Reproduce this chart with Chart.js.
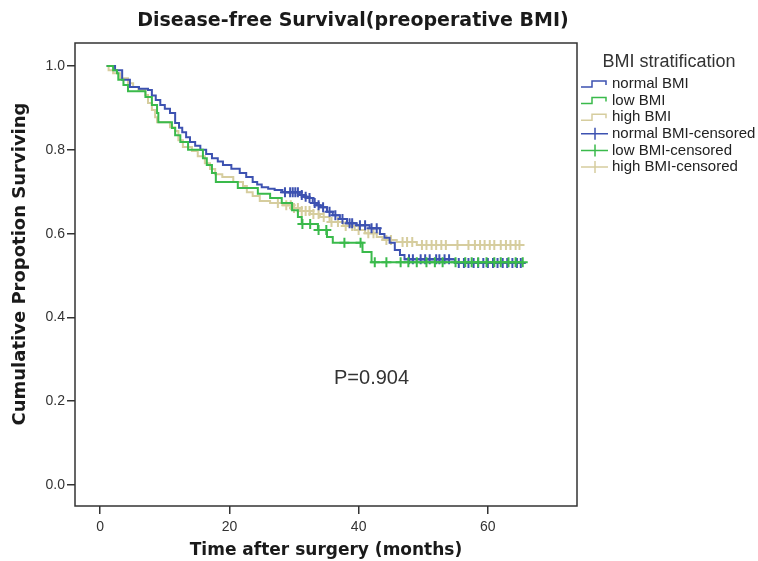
<!DOCTYPE html>
<html>
<head>
<meta charset="utf-8">
<script src="https://cdn.jsdelivr.net/npm/chart.js@4.4.1/dist/chart.umd.min.js"></script>
<style>
  html, body { margin: 0; padding: 0; background: #fff; }
  #wrap { width: 758px; height: 561px; }
</style>
</head>
<body>
<div id="wrap"><canvas id="kmChart" width="758" height="561"></canvas></div>
<script>
// values (months, cumulative survival)
const normalTime = [1, 2.3, 3.4, 4.6, 6.0, 7.4, 8.0, 8.6, 9.3, 10.0, 10.8, 11.6, 12.2, 12.7, 13.3, 13.9, 14.7, 15.5, 16.4, 17.3, 18.2, 19.0, 20.3, 21.6, 22.6, 23.6, 24.3, 25.0, 26.0, 27.0, 28.2, 30.9, 31.5, 32.0, 32.9, 33.5, 34.0, 35.1, 36.0, 37.1, 38.2, 39.7, 41.7, 43.3, 44.0, 44.8, 45.6, 46.4, 47.1, 54.9, 65.1];
const normalSurv = [1.0, 0.99, 0.967, 0.95, 0.946, 0.943, 0.93, 0.919, 0.907, 0.898, 0.888, 0.864, 0.853, 0.842, 0.83, 0.819, 0.81, 0.8, 0.79, 0.78, 0.772, 0.764, 0.755, 0.745, 0.735, 0.723, 0.717, 0.711, 0.707, 0.704, 0.699, 0.692, 0.688, 0.685, 0.673, 0.668, 0.663, 0.652, 0.644, 0.635, 0.625, 0.62, 0.613, 0.599, 0.59, 0.578, 0.561, 0.549, 0.539, 0.53, 0.53];
const normalCensor = [28.6, 29.4, 29.8, 30.2, 30.6, 31.2, 31.8, 32.4, 33.2, 33.8, 34.5, 35.5, 36.4, 37.5, 38.6, 39.0, 40.2, 41.0, 42.0, 42.8, 47.8, 48.4, 49.6, 50.3, 51.0, 52.0, 52.5, 53.3, 54.0, 55.5, 56.3, 57.0, 57.8, 58.5, 59.3, 60.0, 60.8, 61.5, 62.3, 63.0, 63.8, 64.5, 65.1];

const lowTime = [1, 2.0, 2.6, 2.8, 3.6, 4.3, 7.0, 8.0, 8.8, 9.0, 11.1, 11.6, 12.4, 13.6, 15.9, 16.5, 17.3, 17.9, 21.3, 24.4, 26.3, 28.1, 29.7, 30.6, 31.2, 33.7, 35.1, 36.0, 40.6, 42.0, 65.4];
const lowSurv = [1.0, 0.99, 0.983, 0.967, 0.955, 0.94, 0.926, 0.907, 0.888, 0.866, 0.852, 0.835, 0.819, 0.8, 0.78, 0.764, 0.745, 0.723, 0.709, 0.695, 0.685, 0.673, 0.656, 0.64, 0.623, 0.609, 0.592, 0.578, 0.556, 0.532, 0.532];
const lowCensor = [31.3, 32.5, 33.8, 35.0, 37.8, 40.3, 42.5, 44.3, 46.5, 47.7, 49.0, 50.5, 51.8, 53.0, 55.0, 56.5, 57.5, 58.5, 59.8, 61.0, 62.0, 63.2, 64.3, 65.4];

const highTime = [1, 1.3, 2.0, 3.1, 4.3, 5.1, 5.9, 7.0, 7.4, 8.0, 8.5, 8.8, 10.8, 11.6, 12.1, 12.8, 14.2, 15.1, 16.2, 17.0, 17.8, 18.9, 20.6, 22.1, 22.7, 23.6, 24.7, 26.3, 28.3, 29.7, 30.9, 32.5, 34.0, 35.5, 37.6, 39.4, 41.0, 42.8, 43.7, 45.9, 49.0, 64.9];
const highSurv = [1.0, 0.99, 0.983, 0.971, 0.959, 0.95, 0.943, 0.931, 0.912, 0.895, 0.878, 0.866, 0.854, 0.845, 0.823, 0.807, 0.797, 0.785, 0.768, 0.754, 0.742, 0.735, 0.723, 0.714, 0.699, 0.69, 0.678, 0.673, 0.668, 0.661, 0.654, 0.647, 0.64, 0.628, 0.618, 0.609, 0.601, 0.592, 0.585, 0.58, 0.573, 0.573];
const highCensor = [27.5, 28.8, 29.5, 30.0, 30.6, 31.2, 31.8, 32.4, 33.0, 33.8, 34.6, 35.8, 36.8, 38.0, 39.0, 40.0, 41.5, 42.3, 44.3, 45.0, 46.8, 47.5, 48.3, 49.8, 50.5, 51.3, 52.0, 52.8, 53.5, 55.3, 57.0, 58.0, 58.8, 59.5, 60.3, 61.0, 62.0, 62.8, 63.5, 64.3, 64.9];

const xTicks = [0, 20, 40, 60];
const yTicks = [0.0, 0.2, 0.4, 0.6, 0.8, 1.0];
const legendLabels = ['normal BMI', 'low BMI', 'high BMI', 'normal BMI-censored', 'low BMI-censored', 'high BMI-censored'];
const pValueText = 'P=0.904';

const BLUE = '#3d52b1';
const GREEN = '#3aba4b';
const TAN = '#d6cd9e';

const toPoints = (t, s) => t.map((x, i) => ({ x: x, y: s[i] }));

// survival level of a step curve at time c
const survAt = (t, s, c) => {
    let v = s[0];
    for (let i = 0; i < t.length; i++) {
        if (t[i] <= c) v = s[i];
    }
    return v;
};
const censorPoints = (t, s, cs) => cs.map((c) => ({ x: c, y: survAt(t, s, c) }));

// KM step: hold previous level until the next event time, then drop
const lineSet = (label, t, s, color) => ({
    label: label,
    data: toPoints(t, s),
    showLine: true,
    stepped: 'before',
    borderColor: color,
    borderWidth: 2,
    pointRadius: 0,
    fill: false,
});

const censorSet = (label, t, s, cs, color) => ({
    label: label,
    data: censorPoints(t, s, cs),
    showLine: false,
    pointStyle: 'cross',
    pointRadius: 5,
    pointBorderWidth: 2,
    pointBorderColor: color,
    pointBackgroundColor: color,
});

// box, titles, p-value and legend drawn on top of the chart
const extrasPlugin = {
    id: 'extras',
    afterDraw(chart) {
        const { ctx, chartArea } = chart;
        const xs = chart.scales.x;
        const ys = chart.scales.y;
        ctx.save();

        ctx.strokeStyle = '#333';
        ctx.lineWidth = 1.5;
        ctx.strokeRect(chartArea.left, chartArea.top, chartArea.right - chartArea.left, chartArea.bottom - chartArea.top);

        ctx.fillStyle = '#1a1a1a';
        ctx.font = 'bold 19px "DejaVu Sans"';
        ctx.textAlign = 'center';
        ctx.textBaseline = 'middle';
        ctx.fillText('Disease-free Survival(preoperative BMI)', 353, 21);

        ctx.save();
        ctx.translate(20, 264);
        ctx.rotate(-Math.PI / 2);
        ctx.font = 'bold 18px "DejaVu Sans"';
        ctx.fillText('Cumulative Propotion Surviving', 0, 0);
        ctx.restore();

        ctx.font = '20px "Liberation Sans"';
        ctx.fillStyle = '#333';
        ctx.fillText(pValueText, xs.getPixelForValue(42), ys.getPixelForValue(0.255));

        ctx.font = '18px "Liberation Sans"';
        ctx.fillText('BMI stratification', 669, 62);

        const colors = [BLUE, GREEN, TAN, BLUE, GREEN, TAN];
        ctx.textAlign = 'left';
        ctx.font = '15px "Liberation Sans"';
        legendLabels.forEach((lab, i) => {
            const y = 84 + i * 16.6;
            ctx.strokeStyle = colors[i];
            ctx.lineWidth = 1.5;
            ctx.beginPath();
            if (i < 3) {
                ctx.moveTo(581, y + 3);
                ctx.lineTo(592, y + 3);
                ctx.lineTo(592, y - 3);
                ctx.lineTo(606, y - 3);
                ctx.lineTo(606, y + 1);
            } else {
                ctx.moveTo(581, y);
                ctx.lineTo(608, y);
                ctx.moveTo(595, y - 6);
                ctx.lineTo(595, y + 6);
            }
            ctx.stroke();
            ctx.fillStyle = '#222';
            ctx.fillText(lab, 612, y);
        });
        ctx.restore();
    },
};

const tickFont = { family: 'Liberation Sans', size: 14 };

new Chart(document.getElementById('kmChart').getContext('2d'), {
    type: 'scatter',
    data: {
        datasets: [
            lineSet(legendLabels[1], lowTime, lowSurv, GREEN),
            censorSet(legendLabels[4], lowTime, lowSurv, lowCensor, GREEN),
            lineSet(legendLabels[0], normalTime, normalSurv, BLUE),
            censorSet(legendLabels[3], normalTime, normalSurv, normalCensor, BLUE),
            lineSet(legendLabels[2], highTime, highSurv, TAN),
            censorSet(legendLabels[5], highTime, highSurv, highCensor, TAN),
        ],
    },
    options: {
        responsive: false,
        animation: false,
        devicePixelRatio: 1,
        layout: { padding: { top: 43, right: 181, left: 0, bottom: 0 } },
        plugins: {
            legend: { display: false },
            tooltip: { enabled: false },
        },
        scales: {
            x: {
                type: 'linear',
                min: -3.9,
                max: 73.8,
                afterBuildTicks: (scale) => { scale.ticks = xTicks.map((v) => ({ value: v })); },
                afterFit: (scale) => { scale.height = 55; },
                ticks: { color: '#333', font: tickFont, padding: 5, callback: (v) => String(v) },
                grid: { display: true, drawOnChartArea: false, drawTicks: true, tickLength: 8, color: '#333', lineWidth: 1.5 },
                border: { display: false },
                title: { display: true, text: 'Time after surgery (months)', color: '#1a1a1a', font: { family: 'DejaVu Sans', size: 17, weight: 'bold' }, padding: { top: 0, bottom: 0 } },
            },
            y: {
                type: 'linear',
                min: -0.05,
                max: 1.055,
                afterBuildTicks: (scale) => { scale.ticks = yTicks.map((v) => ({ value: v })); },
                afterFit: (scale) => { scale.width = 75; },
                ticks: { color: '#333', font: tickFont, padding: 2, callback: (v) => Number(v).toFixed(1) },
                grid: { display: true, drawOnChartArea: false, drawTicks: true, tickLength: 8, color: '#333', lineWidth: 1.5 },
                border: { display: false },
                title: { display: false },
            },
        },
    },
    plugins: [extrasPlugin],
});
</script>
</body>
</html>
